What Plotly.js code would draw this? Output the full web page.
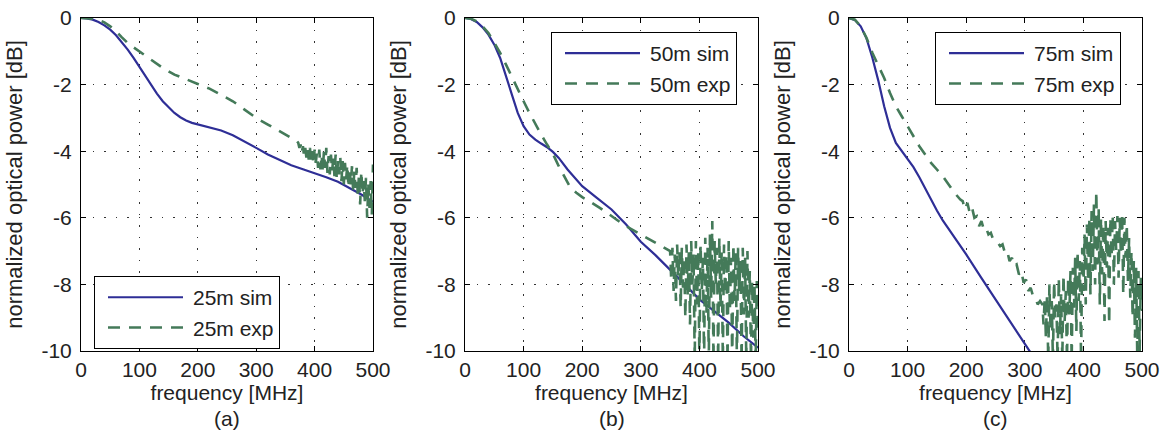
<!DOCTYPE html>
<html>
<head>
<meta charset="utf-8">
<script src="https://cdn.plot.ly/plotly-3.0.1.min.js"></script>
<style>html,body{margin:0;padding:0;background:#fff;}#chart{width:1164px;height:437px;}</style>
</head>
<body>
<div id="chart"></div>
<script>
// ---------- data ----------
const xTicks = [0, 100, 200, 300, 400, 500];
const yTicks = [-10, -8, -6, -4, -2, 0];
const yTickText = ['-10', '-8', '-6', '-4', '-2', '0'];
const panelLabels = ['(a)', '(b)', '(c)'];
const seriesNames = [['25m sim', '25m exp'], ['50m sim', '50m exp'], ['75m sim', '75m exp']];

// (a) 25 m
const fA_sim = [0,10,20,30,40,50,60,70,80,90,100,110,120,130,140,150,160,170,180,190,200,220,240,260,280,300,320,340,360,380,400,420,440,460,480,500];
const pA_sim = [0,-0.01,-0.05,-0.12,-0.22,-0.35,-0.52,-0.72,-0.95,-1.2,-1.47,-1.75,-2.02,-2.27,-2.5,-2.69,-2.85,-2.98,-3.08,-3.15,-3.2,-3.28,-3.38,-3.52,-3.7,-3.9,-4.1,-4.27,-4.42,-4.54,-4.65,-4.78,-4.92,-5.1,-5.3,-5.52];
const fA_exp = [0,10,20,30,40,50,60,70,80,90,100,120,140,160,180,200,220,240,260,280,300,320,340,360,370,
  372,374,376,378,380,382,384,386,388,390,392,394,396,398,400,402,404,406,408,410,412,414,416,418,420,422,424,426,428,430,432,434,436,438,440,442,444,446,448,450,452,454,456,458,460,462,464,466,468,470,472,474,476,478,480,482,484,486,488,490,492,494,496,498,500];
const pA_exp = [0,0,-0.02,-0.06,-0.13,-0.25,-0.4,-0.58,-0.75,-0.88,-1.0,-1.25,-1.5,-1.7,-1.85,-1.98,-2.12,-2.3,-2.5,-2.75,-3.0,-3.2,-3.4,-3.6,-3.7,
  -3.75,-3.9,-3.8,-4.05,-3.85,-4.15,-3.9,-4.2,-3.95,-4.25,-3.9,-4.3,-4.0,-4.4,-3.95,-4.35,-4.05,-4.5,-3.95,-4.55,-4.1,-4.6,-4.0,-4.5,-3.9,-4.65,-4.15,-4.7,-4.1,-4.6,-4.2,-4.75,-4.1,-4.85,-4.3,-4.7,-4.2,-4.9,-4.3,-5.0,-4.35,-4.85,-4.4,-5.1,-4.5,-5.0,-4.45,-5.2,-4.6,-5.1,-4.5,-5.35,-4.7,-5.6,-4.6,-5.3,-4.9,-5.5,-4.8,-6.0,-5.0,-5.7,-4.9,-5.9,-4.4];

// (b) 50 m
const fB_sim = [0,10,20,30,40,50,60,70,80,90,100,110,120,130,140,150,160,175,200,225,250,275,300,325,350,375,400,425,450,475,500];
const pB_sim = [0,-0.03,-0.12,-0.28,-0.5,-0.8,-1.2,-1.72,-2.3,-2.85,-3.25,-3.5,-3.65,-3.77,-3.88,-4.02,-4.2,-4.55,-5.05,-5.4,-5.75,-6.2,-6.72,-7.12,-7.55,-8.0,-8.45,-8.8,-9.15,-9.55,-9.9];
const fB_exp = [0,10,20,30,40,50,60,70,80,90,100,110,120,130,140,150,160,170,180,190,200,210,220,230,240,250,260,270,280,290,300,310,320,330,340,346,
  350,352,354,356,358,360,362,364,366,368,370,372,374,376,378,380,382,384,386,388,390,392,394,396,398,400,402,404,406,408,410,412,414,416,418,420,422,424,426,428,430,432,434,436,438,440,442,444,446,448,450,452,454,456,458,460,462,464,466,468,470,472,474,476,478,480,482,484,486,488,490,492,494,496,498,500];
const pB_exp = [0,-0.02,-0.1,-0.25,-0.45,-0.75,-1.05,-1.4,-1.78,-2.15,-2.5,-2.85,-3.2,-3.5,-3.8,-4.08,-4.45,-4.78,-5.1,-5.25,-5.38,-5.48,-5.58,-5.7,-5.82,-5.95,-6.08,-6.2,-6.3,-6.4,-6.5,-6.6,-6.7,-6.8,-6.9,-6.95,
  -7.0,-7.9,-6.9,-8.2,-7.1,-8.5,-6.8,-7.8,-7.0,-8.7,-6.9,-8.1,-7.2,-9.0,-6.8,-8.3,-7.0,-9.2,-6.7,-8.0,-7.1,-10.3,-6.7,-8.6,-7.0,-10.3,-6.8,-8.2,-7.2,-10.3,-6.6,-8.9,-6.9,-10.3,-6.5,-8.4,-6.1,-10.3,-6.7,-8.0,-6.9,-10.3,-6.6,-8.7,-7.0,-10.3,-6.8,-8.3,-7.1,-10.3,-6.7,-8.8,-7.2,-10.3,-6.8,-8.5,-7.0,-10.3,-6.9,-8.2,-7.3,-10.3,-6.9,-8.9,-7.2,-10.3,-7.0,-9.0,-7.6,-10.3,-7.9,-9.6,-8.0,-10.3,-7.9,-9.4];

// (c) 75 m
const fC_sim = [0,10,20,30,40,50,60,70,80,90,100,110,120,130,140,150,160,175,200,225,250,275,300,310];
const pC_sim = [0,-0.06,-0.25,-0.62,-1.2,-1.88,-2.65,-3.3,-3.75,-4.0,-4.22,-4.48,-4.78,-5.12,-5.45,-5.78,-6.08,-6.45,-7.1,-7.78,-8.45,-9.1,-9.78,-10.05];
const fC_exp = [0,10,20,30,40,50,60,70,80,90,100,110,120,130,140,150,160,170,180,190,
  194,198,202,206,210,214,218,222,226,230,234,238,242,246,250,254,258,262,266,270,274,278,282,286,290,294,298,302,306,310,314,318,322,326,
  330,332,334,336,338,340,342,344,346,348,350,352,354,356,358,360,362,364,366,368,370,372,374,376,378,380,382,384,386,388,390,392,394,396,398,400,402,404,406,408,410,412,414,416,418,420,422,424,426,428,430,432,434,436,438,440,442,444,446,448,450,452,454,456,458,460,462,464,466,468,470,472,474,476,478,480,482,484,486,488,490,492,494,496,498,500];
const pC_exp = [0,-0.05,-0.25,-0.6,-1.05,-1.4,-1.8,-2.25,-2.65,-2.95,-3.25,-3.55,-3.85,-4.1,-4.35,-4.55,-4.75,-5.0,-5.25,-5.45,
  -5.5,-5.75,-5.55,-5.85,-5.7,-6.0,-5.95,-6.25,-6.1,-6.35,-6.3,-6.5,-6.45,-6.65,-6.7,-6.75,-6.85,-6.8,-7.05,-7.0,-7.3,-7.2,-7.45,-7.4,-7.7,-7.6,-7.95,-7.85,-8.2,-8.1,-8.35,-8.4,-8.6,-8.5,
  -8.6,-9.2,-8.4,-9.6,-8.3,-10.3,-8.0,-9.4,-8.5,-10.3,-7.9,-9.0,-8.6,-10.3,-7.8,-9.5,-8.3,-10.3,-7.7,-9.1,-8.2,-10.3,-7.8,-8.9,-7.6,-10.3,-7.5,-8.7,-7.2,-9.4,-7.0,-8.5,-7.3,-10.3,-6.9,-8.2,-6.5,-8.6,-6.2,-7.9,-6.0,-8.3,-5.8,-7.6,-5.6,-8.0,-5.2,-7.4,-5.7,-8.6,-6.0,-7.7,-6.2,-9.1,-6.1,-7.5,-6.3,-9.2,-6.0,-7.2,-5.9,-8.0,-6.1,-7.0,-5.95,-7.8,-6.0,-7.1,-5.85,-8.3,-6.0,-7.2,-6.2,-7.9,-6.6,-8.4,-7.0,-9.0,-7.3,-9.6,-7.5,-10.3,-7.6,-10.0,-7.8,-8.8];

// ---------- styling ----------
const BLUE = '#2e2e96';
const GREEN = '#447a59';
const FONT = 'Liberation Sans, Arial, sans-serif';
const TXT = '#222222';

const simX = [fA_sim, fB_sim, fC_sim], simY = [pA_sim, pB_sim, pC_sim];
const expX = [fA_exp, fB_exp, fC_exp], expY = [pA_exp, pB_exp, pC_exp];

const traces = [];
for (let i = 0; i < 3; i++) {
  const sfx = i === 0 ? '' : String(i + 1);
  const leg = i === 0 ? 'legend' : 'legend' + (i + 1);
  traces.push({x: simX[i], y: simY[i], type: 'scatter', mode: 'lines', name: seriesNames[i][0],
    xaxis: 'x' + sfx, yaxis: 'y' + sfx, legend: leg, line: {color: BLUE, width: 2.2}});
  traces.push({x: expX[i], y: expY[i], type: 'scatter', mode: 'lines', name: seriesNames[i][1],
    xaxis: 'x' + sfx, yaxis: 'y' + sfx, legend: leg, line: {color: GREEN, width: 2.6, dash: '12px,9px'}});
}

const W = 1164;
const domains = [[81 / W, 373 / W], [465 / W, 758 / W], [849 / W, 1142 / W]];

function xAxis(i) {
  return {
    domain: domains[i], anchor: i === 0 ? 'y' : 'y' + (i + 1), range: [0, 500],
    tickmode: 'array', tickvals: xTicks, ticktext: xTicks.map(String),
    ticks: 'inside', ticklen: 5, tickcolor: '#000', mirror: 'ticks',
    showline: true, linecolor: '#000', linewidth: 1,
    showgrid: true, gridcolor: '#333', griddash: '1.5px,10px', gridwidth: 1.2,
    zeroline: false, tickfont: {family: FONT, size: 21, color: TXT},
    title: {text: 'frequency [MHz]', font: {family: FONT, size: 21, color: TXT}, standoff: 0}
  };
}
function yAxis(i) {
  return {
    domain: [0, 1], anchor: i === 0 ? 'x' : 'x' + (i + 1), range: [-10, 0],
    tickmode: 'array', tickvals: yTicks, ticktext: yTickText,
    ticks: 'inside', ticklen: 5, tickcolor: '#000', mirror: 'ticks',
    showline: true, linecolor: '#000', linewidth: 1,
    showgrid: true, gridcolor: '#333', griddash: '1.5px,10px', gridwidth: 1.2,
    zeroline: false, tickfont: {family: FONT, size: 21, color: TXT}, ticklabelstandoff: 4,
    title: {text: 'normalized optical power [dB]', font: {family: FONT, size: 22, color: TXT}, standoff: 12}
  };
}
function legendBox(x, y) {
  return {x: x, y: y, xanchor: 'left', yanchor: 'top', bgcolor: '#fff', bordercolor: '#000', borderwidth: 1,
    font: {family: FONT, size: 21, color: TXT}, tracegroupgap: 0, itemwidth: 88};
}

const layout = {
  width: 1164, height: 437, paper_bgcolor: '#fff', plot_bgcolor: '#fff',
  margin: {l: 0, r: 0, t: 18, b: 86},
  showlegend: true,
  font: {family: FONT, color: TXT},
  xaxis: xAxis(0), xaxis2: xAxis(1), xaxis3: xAxis(2),
  yaxis: yAxis(0), yaxis2: yAxis(1), yaxis3: yAxis(2),
  legend: legendBox(94 / W, 0.225),
  legend2: legendBox(551 / W, 0.958),
  legend3: legendBox(935 / W, 0.958),
  annotations: panelLabels.map((t, i) => ({
    text: t, xref: 'paper', yref: 'paper', x: (domains[i][0] + domains[i][1]) / 2, y: -0.204,
    xanchor: 'center', yanchor: 'middle', showarrow: false, font: {family: FONT, size: 21, color: TXT}
  }))
};

Plotly.newPlot('chart', traces, layout, {displayModeBar: false, staticPlot: true}).then(gd => {
  // lengthen the legend line samples to match the reference legend style
  gd.querySelectorAll('.legendlines path').forEach(p => p.setAttribute('d', 'M13,0h75'));
});
</script>
</body>
</html>
